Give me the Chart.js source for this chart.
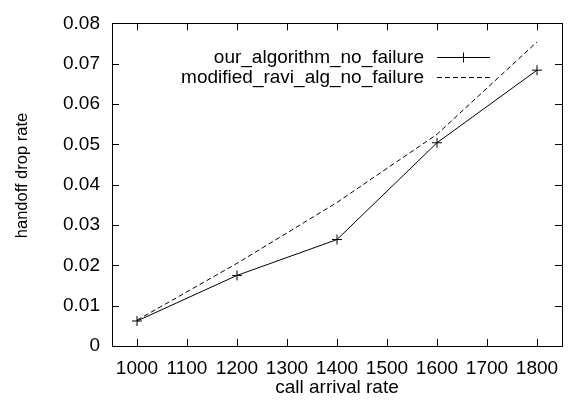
<!DOCTYPE html>
<html>
<head>
<meta charset="utf-8">
<script src="https://cdn.jsdelivr.net/npm/chart.js@4/dist/chart.umd.min.js"></script>
<style>
  html, body { margin: 0; padding: 0; background: #fff; }
  #wrap { width: 570px; height: 409px; }
</style>
</head>
<body>
<div id="wrap"><canvas id="c"></canvas></div>
<script>
const arrivalRates = [1000, 1200, 1400, 1600, 1800];
const ourAlgorithm = [0.0062, 0.0175, 0.0264, 0.0504, 0.0684];
const modifiedRavi = [0.0064, 0.0205, 0.0356, 0.0525, 0.0754];
const xTicks = [1000, 1100, 1200, 1300, 1400, 1500, 1600, 1700, 1800];
const yTicks = [0, 0.01, 0.02, 0.03, 0.04, 0.05, 0.06, 0.07, 0.08];
const seriesNames = ["our_algorithm_no_failure", "modified_ravi_alg_no_failure"];

const FONT = "Liberation Sans, Arial, Helvetica, sans-serif";
const toPoints = (ys) => arrivalRates.map((x, i) => ({ x, y: ys[i] }));

// gnuplot style frame: box + inward ticks on all four sides
const framePlugin = {
    id: "frame",
    afterDatasetsDraw(chart) {
        const { ctx, chartArea: a, scales } = chart;
        const tl = 7;
        ctx.save();
        ctx.strokeStyle = "#000";
        ctx.lineWidth = 1;
        ctx.beginPath();
        scales.x.ticks.forEach((t) => {
            const px = Math.round(scales.x.getPixelForValue(t.value)) + 0.5;
            ctx.moveTo(px, a.bottom); ctx.lineTo(px, a.bottom - tl);
            ctx.moveTo(px, a.top); ctx.lineTo(px, a.top + tl);
        });
        scales.y.ticks.forEach((t) => {
            const py = Math.round(scales.y.getPixelForValue(t.value)) + 0.5;
            ctx.moveTo(a.left, py); ctx.lineTo(a.left + tl, py);
            ctx.moveTo(a.right, py); ctx.lineTo(a.right - tl, py);
        });
        ctx.stroke();
        ctx.strokeRect(Math.round(a.left) + 0.5, Math.round(a.top) + 0.5,
            Math.round(a.right - a.left), Math.round(a.bottom - a.top));
        ctx.restore();
    },
};

// legend: right-aligned text followed by a line sample
const keyPlugin = {
    id: "key",
    afterDraw(chart) {
        const { ctx } = chart;
        const textRight = 424, x0 = 437, x1 = 490, top = 57, step = 20;
        ctx.save();
        ctx.font = "19px " + FONT;
        ctx.textAlign = "right";
        ctx.textBaseline = "middle";
        ctx.fillStyle = "#000";
        chart.data.datasets.forEach((ds, i) => {
            const y = top + i * step + 0.5;
            ctx.fillText(ds.label, textRight, y);
            ctx.strokeStyle = ds.borderColor;
            ctx.lineWidth = ds.borderWidth;
            ctx.setLineDash(ds.borderDash || []);
            ctx.beginPath();
            ctx.moveTo(x0, y); ctx.lineTo(x1, y);
            ctx.stroke();
            ctx.setLineDash([]);
            if (ds.pointRadius > 0) {
                const mx = (x0 + x1) / 2, r = ds.pointRadius;
                ctx.beginPath();
                ctx.moveTo(mx - r, y); ctx.lineTo(mx + r, y);
                ctx.moveTo(mx, y - r); ctx.lineTo(mx, y + r);
                ctx.stroke();
            }
        });
        ctx.restore();
    },
};

new Chart(document.getElementById("c"), {
    type: "line",
    data: {
        datasets: [
            {
                label: seriesNames[0],
                data: toPoints(ourAlgorithm),
                borderColor: "#000",
                borderWidth: 1,
                pointStyle: "cross",
                pointRadius: 5,
                pointBorderColor: "#000",
                pointBorderWidth: 1,
                fill: false,
                tension: 0,
            },
            {
                label: seriesNames[1],
                data: toPoints(modifiedRavi),
                borderColor: "#000",
                borderWidth: 1,
                borderDash: [5, 3],
                pointRadius: 0,
                fill: false,
                tension: 0,
            },
        ],
    },
    options: {
        responsive: true,
        maintainAspectRatio: false,
        animation: false,
        events: [],
        layout: { padding: { top: 14, right: 8, left: 0, bottom: 0 } },
        plugins: {
            legend: { display: false },
            tooltip: { enabled: false },
        },
        scales: {
            x: {
                type: "linear",
                min: 950,
                max: 1850,
                afterBuildTicks: (s) => { s.ticks = xTicks.map((value) => ({ value })); },
                afterFit: (s) => { s.height = 63; },
                grid: { display: false, drawTicks: false },
                border: { display: false },
                ticks: {
                    color: "#000",
                    font: { family: FONT, size: 19 },
                    padding: 11,
                    maxRotation: 0,
                    autoSkip: false,
                    callback: (v) => String(v),
                },
                title: {
                    display: true,
                    text: "call arrival rate",
                    color: "#000",
                    font: { family: FONT, size: 19 },
                    padding: { top: 0, bottom: 10 },
                },
            },
            y: {
                min: 0,
                max: 0.08,
                afterBuildTicks: (s) => { s.ticks = yTicks.map((value) => ({ value })); },
                afterFit: (s) => { s.width = 112; },
                grid: { display: false, drawTicks: false },
                border: { display: false },
                ticks: {
                    color: "#000",
                    font: { family: FONT, size: 19 },
                    padding: 12,
                    autoSkip: false,
                    callback: (v) => (v === 0 ? "0" : v.toFixed(2)),
                },
                title: {
                    display: true,
                    // leading spaces nudge the rotated, centred label upward, as in the original
                    text: "    handoff drop rate",
                    color: "#000",
                    font: { family: FONT, size: 16.5 },
                    padding: { top: 13, bottom: 0 },
                },
            },
        },
    },
    plugins: [framePlugin, keyPlugin],
});
</script>
</body>
</html>
